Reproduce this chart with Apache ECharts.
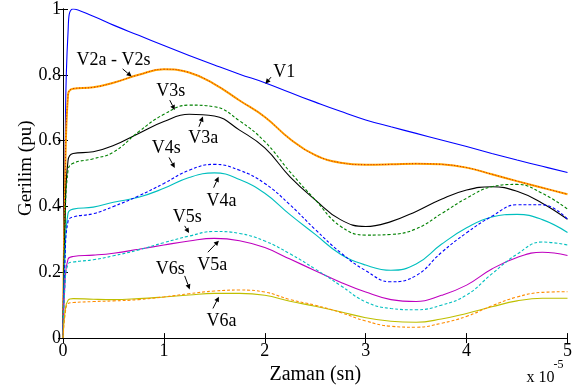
<!DOCTYPE html>
<html>
<head>
<meta charset="utf-8">
<script src="https://cdn.jsdelivr.net/npm/echarts@6/dist/echarts.min.js"></script>
<style>html,body{margin:0;padding:0;background:#fff}#c{width:575px;height:390px}</style>
</head>
<body>
<div id="c"></div>
<script>
// time axis (x 10^-5 s)
var xs = [0, 0.02, 0.05, 0.1, 0.3, 0.5, 0.75, 1.0, 1.25, 1.5, 1.75, 2.0, 2.25, 2.5, 2.75, 3.0, 3.25, 3.5, 3.75, 4.0, 4.25, 4.5, 4.75, 5.0];
var V1  = [0, 0.55, 0.93, 1.0, 0.978, 0.951, 0.92, 0.889, 0.859, 0.83, 0.802, 0.776, 0.746, 0.717, 0.689, 0.663, 0.642, 0.622, 0.602, 0.582, 0.561, 0.541, 0.522, 0.503];
var V2  = [0, 0.45, 0.74, 0.758, 0.762, 0.776, 0.8, 0.817, 0.807, 0.772, 0.722, 0.672, 0.605, 0.556, 0.533, 0.527, 0.528, 0.53, 0.528, 0.518, 0.498, 0.477, 0.457, 0.437];
var V3a = [0, 0.35, 0.54, 0.561, 0.566, 0.585, 0.622, 0.658, 0.68, 0.675, 0.632, 0.578, 0.49, 0.42, 0.36, 0.339, 0.354, 0.385, 0.422, 0.45, 0.46, 0.446, 0.41, 0.361];
var V3s = [0, 0.33, 0.51, 0.531, 0.545, 0.565, 0.627, 0.68, 0.708, 0.703, 0.66, 0.597, 0.505, 0.42, 0.34, 0.313, 0.315, 0.332, 0.378, 0.425, 0.46, 0.467, 0.44, 0.392];
var V4a = [0, 0.25, 0.38, 0.392, 0.398, 0.413, 0.428, 0.455, 0.488, 0.502, 0.482, 0.44, 0.375, 0.315, 0.255, 0.222, 0.206, 0.225, 0.285, 0.335, 0.368, 0.376, 0.36, 0.321];
var V4s = [0, 0.24, 0.355, 0.368, 0.378, 0.4, 0.432, 0.47, 0.51, 0.528, 0.51, 0.47, 0.405, 0.33, 0.26, 0.205, 0.171, 0.19, 0.26, 0.32, 0.37, 0.405, 0.405, 0.361];
var V5a = [0, 0.17, 0.24, 0.248, 0.252, 0.258, 0.27, 0.283, 0.295, 0.303, 0.296, 0.275, 0.24, 0.205, 0.17, 0.14, 0.117, 0.111, 0.13, 0.161, 0.21, 0.245, 0.261, 0.251];
var V5s = [0, 0.16, 0.225, 0.231, 0.238, 0.25, 0.268, 0.29, 0.31, 0.324, 0.318, 0.295, 0.256, 0.21, 0.16, 0.11, 0.09, 0.086, 0.1, 0.131, 0.195, 0.255, 0.292, 0.283];
var V6a = [0, 0.08, 0.115, 0.12, 0.118, 0.117, 0.12, 0.125, 0.131, 0.136, 0.136, 0.13, 0.112, 0.097, 0.08, 0.062, 0.051, 0.048, 0.058, 0.075, 0.095, 0.113, 0.121, 0.121];
var V6s = [0, 0.07, 0.105, 0.108, 0.111, 0.113, 0.117, 0.125, 0.135, 0.143, 0.146, 0.14, 0.117, 0.1, 0.078, 0.052, 0.036, 0.033, 0.045, 0.066, 0.098, 0.125, 0.139, 0.141];
var xTicks = [0, 1, 2, 3, 4, 5];
var yTicks = [0, 0.2, 0.4, 0.6, 0.8, 1];
// annotations: text, text centre [x,y], arrow from [x,y] to [x,y] (data units)
var notes = [
  ['V2a - V2s', [0.50, 0.843], [0.591, 0.818], [0.68, 0.795]],
  ['V1', [2.193, 0.807], [2.062, 0.793], [2.006, 0.773]],
  ['V3s', [1.068, 0.75], [1.058, 0.723], [1.108, 0.693]],
  ['V3a', [1.389, 0.607], [1.347, 0.642], [1.387, 0.673]],
  ['V4s', [1.024, 0.577], [1.051, 0.549], [1.108, 0.517]],
  ['V4a', [1.572, 0.417], [1.493, 0.457], [1.542, 0.49]],
  ['V5s', [1.231, 0.366], [1.206, 0.341], [1.249, 0.319]],
  ['V5a', [1.478, 0.221], [1.436, 0.261], [1.545, 0.296]],
  ['V6s', [1.063, 0.208], [1.206, 0.189], [1.256, 0.148]],
  ['V6a', [1.572, 0.05], [1.486, 0.09], [1.545, 0.126]]
];
var yName = 'Gerilim (pu)';

function pts(ys) { return xs.map(function (x, i) { return [x, ys[i]]; }); }
function ser(name, ys, color, type, width) {
  return {
    name: name, type: 'line', data: pts(ys), showSymbol: false, smooth: 0.45,
    lineStyle: { color: color, width: width || 1.1, type: type || 'solid' }, silent: true, z: 3
  };
}
var FONT = 'Liberation Serif';
var chart = echarts.init(document.getElementById('c'), null, { renderer: 'canvas' });
var axisCommon = {
  type: 'value', min: 0, splitLine: { show: false },
  axisLine: { show: true, lineStyle: { color: '#000', width: 1 } },
  axisTick: { show: true, inside: true, length: 5, lineStyle: { color: '#000' } }
};
chart.setOption({
  animation: false,
  backgroundColor: '#fff',
  textStyle: { fontFamily: FONT },
  grid: { left: 63, right: 6, top: 8, bottom: 50 },
  xAxis: [
    Object.assign({}, axisCommon, {
      max: 5, interval: 1, position: 'bottom',
      name: 'Zaman (sn)', nameLocation: 'middle', nameGap: 24,
      nameTextStyle: { fontFamily: FONT, fontSize: 20, color: '#000' },
      axisLabel: { fontFamily: FONT, fontSize: 18, color: '#000', margin: 4,
        formatter: function (v) { return xTicks.indexOf(v) >= 0 ? String(v) : ''; } }
    }),
    Object.assign({}, axisCommon, { max: 5, interval: 1, position: 'top', axisLabel: { show: false } })
  ],
  yAxis: [
    Object.assign({}, axisCommon, {
      max: 1, interval: 0.2, position: 'left',
      axisLabel: { fontFamily: FONT, fontSize: 18, color: '#000', margin: 2,
        formatter: function (v) { var r = Math.round(v * 10) / 10; return yTicks.indexOf(r) >= 0 ? String(r) : ''; } }
    }),
    Object.assign({}, axisCommon, { max: 1, interval: 0.2, position: 'right', axisLabel: { show: false } })
  ],
  series: [
    ser('V1', V1, '#0000ff'),
    ser('V2a', V2, '#ffa500', 'solid', 2),
    ser('V2s', V2, '#d02000', [1, 2], 1),
    ser('V3a', V3a, '#000000'),
    ser('V3s', V3s, '#008000', [3, 2]),
    ser('V4a', V4a, '#00bfbf'),
    ser('V4s', V4s, '#0000ff', [3, 2]),
    ser('V5a', V5a, '#bf00bf'),
    ser('V5s', V5s, '#00bfbf', [3, 2]),
    ser('V6a', V6a, '#bfbf00'),
    ser('V6s', V6s, '#ff8c00', [3, 2])
  ]
});

var g = [];
notes.forEach(function (n) {
  var c = chart.convertToPixel({ gridIndex: 0 }, n[1]);
  var a = chart.convertToPixel({ gridIndex: 0 }, n[2]);
  var b = chart.convertToPixel({ gridIndex: 0 }, n[3]);
  g.push({ type: 'text', x: c[0], y: c[1], z: 10,
    style: { text: n[0], font: '18px "Liberation Serif"', fill: '#000', align: 'center', verticalAlign: 'middle' } });
  var dx = b[0] - a[0], dy = b[1] - a[1], L = Math.sqrt(dx * dx + dy * dy);
  var ux = dx / L, uy = dy / L, hl = 5, hw = 2.5;
  var bx = b[0] - ux * hl, by = b[1] - uy * hl;
  g.push({ type: 'line', z: 10, shape: { x1: a[0], y1: a[1], x2: bx, y2: by }, style: { stroke: '#000', lineWidth: 1 } });
  g.push({ type: 'polygon', z: 10, shape: { points: [[b[0], b[1]], [bx - uy * hw, by + ux * hw], [bx + uy * hw, by - ux * hw]] },
    style: { fill: '#000' } });
});
var yc = chart.convertToPixel({ gridIndex: 0 }, [0, 0.516]);
g.push({ type: 'text', x: yc[0] - 37, y: yc[1], rotation: Math.PI / 2, z: 10,
  style: { text: yName, font: '19px "Liberation Serif"', fill: '#000', align: 'center', verticalAlign: 'middle' } });
var br = chart.convertToPixel({ gridIndex: 0 }, [5, 0]);
g.push({ type: 'text', x: br[0] - 41, y: br[1] + 40, z: 10, style: { text: 'x 10', font: '16px "Liberation Serif"', fill: '#000', verticalAlign: 'middle' } });
g.push({ type: 'text', x: br[0] - 14, y: br[1] + 27, z: 10, style: { text: '-5', font: '12px "Liberation Serif"', fill: '#000', verticalAlign: 'middle' } });
chart.setOption({ graphic: g });
</script>
</body>
</html>
